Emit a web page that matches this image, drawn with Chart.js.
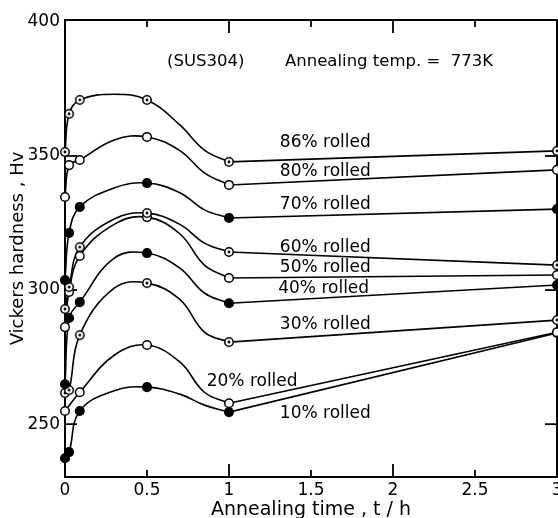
<!DOCTYPE html>
<html><head><meta charset="utf-8">
<script src="https://cdn.jsdelivr.net/npm/chart.js@4"></script>
<style>
html,body{margin:0;padding:0;overflow:hidden;background:#fff;width:558px;height:518px}
canvas{position:absolute;left:0;top:0}
</style></head>
<body>
<canvas id="c" width="580" height="530" style="width:580px;height:530px"></canvas>
<script>
// measured annealing times (h) where markers are plotted
const times = [0, 0.025, 0.09, 0.5, 1, 3];
// Vickers hardness at those times, per rolling reduction
const hv86 = [351.5, 365.7, 370.9, 370.9, 347.8, 351.9];
const hv80 = [334.7, 346.6, 348.5, 357.1, 339.2, 344.8];
const hv70 = [303.7, 321.3, 331.0, 339.9, 326.9, 330.2];
const hv60 = [292.9, 301.1, 316.0, 328.7, 314.2, 309.3];
const hv50 = [286.2, 299.3, 312.7, 327.2, 304.5, 305.6];
const hv40 = [264.9, 289.6, 295.5, 313.8, 295.1, 301.9];
const hv30 = [261.6, 262.7, 283.2, 302.6, 280.6, 288.8];
const hv20 = [254.9, null, 261.9, 279.5, 257.8, 284.3];
const hv10 = [237.3, 239.6, 254.9, 263.8, 254.5, 284.0];
// extra readings taken along the drawn curves (no markers)
const curveTimes = [0.3, 0.7, 0.85];
const curve86 = [373.0, 361.6, 352.2];
const curve80 = [356.0, 352.0, 343.7];
const curve70 = [338.1, 336.3, 329.9];
const curve60 = [326.5, 324.5, 317.5];
const curve50 = [324.5, 321.0, 309.3];
const curve40 = [311.9, 308.2, 298.9];
const curve30 = [300.7, 296.5, 284.3];
const curve20 = [275.7, 273.2, 261.9];
const curve10 = [262.5, 261.2, 257.1];
const seriesNames = ['86% rolled','80% rolled','70% rolled','60% rolled','50% rolled','40% rolled','30% rolled','20% rolled','10% rolled'];
const xTickValues = [0, 0.5, 1, 1.5, 2, 2.5, 3];
const xTickLabels = ['0','0.5','1','1.5','2','2.5','3'];
const yTickValues = [250, 300, 350, 400];

// styling / placement (not data)
const markStyles = ['dot','open','fill','dot','open','fill','dot','open','fill'];
const labelAnchors = [[1.31,354.9],[1.31,344.0],[1.31,331.7],[1.31,316.0],[1.31,308.2],[1.30,300.7],[1.31,287.1],[0.864,265.7],[1.31,254.1]];
const bendTime = 1; // curved part ends here, straight part follows

const hvSets = [hv86,hv80,hv70,hv60,hv50,hv40,hv30,hv20,hv10];
const curveSets = [curve86,curve80,curve70,curve60,curve50,curve40,curve30,curve20,curve10];

function dotMarker(){
  const c = document.createElement('canvas'); c.width = 12; c.height = 12;
  const g = c.getContext('2d');
  g.beginPath(); g.arc(6,6,4.2,0,Math.PI*2); g.fillStyle='#fff'; g.fill();
  g.lineWidth = 1.5; g.strokeStyle = '#000'; g.stroke();
  g.beginPath(); g.arc(6,6,1.4,0,Math.PI*2); g.fillStyle='#000'; g.fill();
  return c;
}
const dotImg = dotMarker();

Chart.defaults.font.family = '"DejaVu Sans", sans-serif';
Chart.defaults.color = '#000';

const datasets = [];
hvSets.forEach((hv, i) => {
  const marks = [];
  times.forEach((t, k) => { if (hv[k] !== null) marks.push({x: t, y: hv[k]}); });
  const curvePts = marks.filter(p => p.x <= bendTime);
  curveTimes.forEach((t, k) => curvePts.push({x: t, y: curveSets[i][k]}));
  curvePts.sort((a, b) => a.x - b.x);
  const straightPts = marks.filter(p => p.x >= bendTime);
  datasets.push({
    label: seriesNames[i] + ' curve', data: curvePts, order: 1, showLine: true,
    borderColor: '#000', borderWidth: 1.6, pointRadius: 0,
    tension: 0.4, fill: false, clip: 8
  });
  datasets.push({
    label: seriesNames[i] + ' line', data: straightPts, order: 1, showLine: true,
    borderColor: '#000', borderWidth: 1.6, pointRadius: 0, tension: 0, fill: false, clip: 8
  });
  const st = markStyles[i];
  datasets.push({
    label: seriesNames[i], data: marks, order: 0, showLine: false,
    pointStyle: st === 'dot' ? dotImg : 'circle',
    pointRadius: 4.3, borderWidth: 1.5, borderColor: '#000',
    backgroundColor: st === 'fill' ? '#000' : '#fff', clip: 10
  });
});

function seg(ctx, x1, y1, x2, y2){ ctx.beginPath(); ctx.moveTo(x1,y1); ctx.lineTo(x2,y2); ctx.stroke(); }

const framePlugin = {
  id: 'frame',
  beforeDatasetsDraw(chart){
    const {ctx, chartArea: a, scales: {x, y}} = chart;
    ctx.save();
    ctx.strokeStyle = '#000'; ctx.lineWidth = 2;
    ctx.strokeRect(a.left, a.top, a.right - a.left, a.bottom - a.top);
    ctx.lineWidth = 1.8;
    xTickValues.forEach(v => {
      if (v <= 0 || v >= 3) return;
      const px = x.getPixelForValue(v);
      const len = Number.isInteger(v) ? 13 : 7;
      seg(ctx, px, a.bottom, px, a.bottom - len);
      seg(ctx, px, a.top, px, a.top + len);
    });
    yTickValues.forEach(v => {
      if (v >= 400) return;
      const py = y.getPixelForValue(v);
      seg(ctx, a.left, py, a.left + 12, py);
      seg(ctx, a.right, py, a.right - 12, py);
    });
    ctx.restore();
  },
  afterDraw(chart){
    const {ctx, scales: {x, y}} = chart;
    ctx.save();
    ctx.fillStyle = '#000';
    ctx.textBaseline = 'middle'; ctx.textAlign = 'left';
    ctx.font = '17px "DejaVu Sans", sans-serif';
    seriesNames.forEach((n, i) => {
      ctx.fillText(n, x.getPixelForValue(labelAnchors[i][0]), y.getPixelForValue(labelAnchors[i][1]));
    });
    ctx.font = '16.5px "DejaVu Sans", sans-serif';
    ctx.fillText('(SUS304)', 167, 62);
    ctx.fillText('Annealing temp. =  773K', 285, 62);
    ctx.restore();
  }
};

new Chart(document.getElementById('c'), {
  type: 'scatter',
  data: { datasets },
  options: {
    responsive: false, animation: false, devicePixelRatio: 1,
    layout: { padding: { left: 0, top: 20, right: 23, bottom: 0 } },
    plugins: { legend: { display: false }, tooltip: { enabled: false } },
    scales: {
      x: {
        type: 'linear', min: 0, max: 3,
        afterBuildTicks: s => { s.ticks = xTickValues.map(v => ({value: v})); },
        afterFit: s => { s.height = 53; },
        ticks: { padding: 3, font: { size: 17 }, maxRotation: 0, autoSkip: false,
          callback: (v) => xTickLabels[xTickValues.indexOf(v)] },
        grid: { display: false, drawTicks: false }, border: { display: false },
        title: { display: true, text: 'Annealing time , t / h', font: { size: 19 }, padding: { top: 0, bottom: 9 } }
      },
      y: {
        type: 'linear', min: 230.3, max: 400.7,
        afterBuildTicks: s => { s.ticks = yTickValues.map(v => ({value: v})); },
        afterFit: s => { s.width = 65; },
        ticks: { padding: 5, font: { size: 17 }, callback: v => String(v) },
        grid: { display: false, drawTicks: false }, border: { display: false },
        title: { display: true, text: 'Vickers hardness , Hv', font: { size: 18 }, padding: { top: 8, bottom: 0 } }
      }
    }
  },
  plugins: [framePlugin]
});
</script>
</body></html>
